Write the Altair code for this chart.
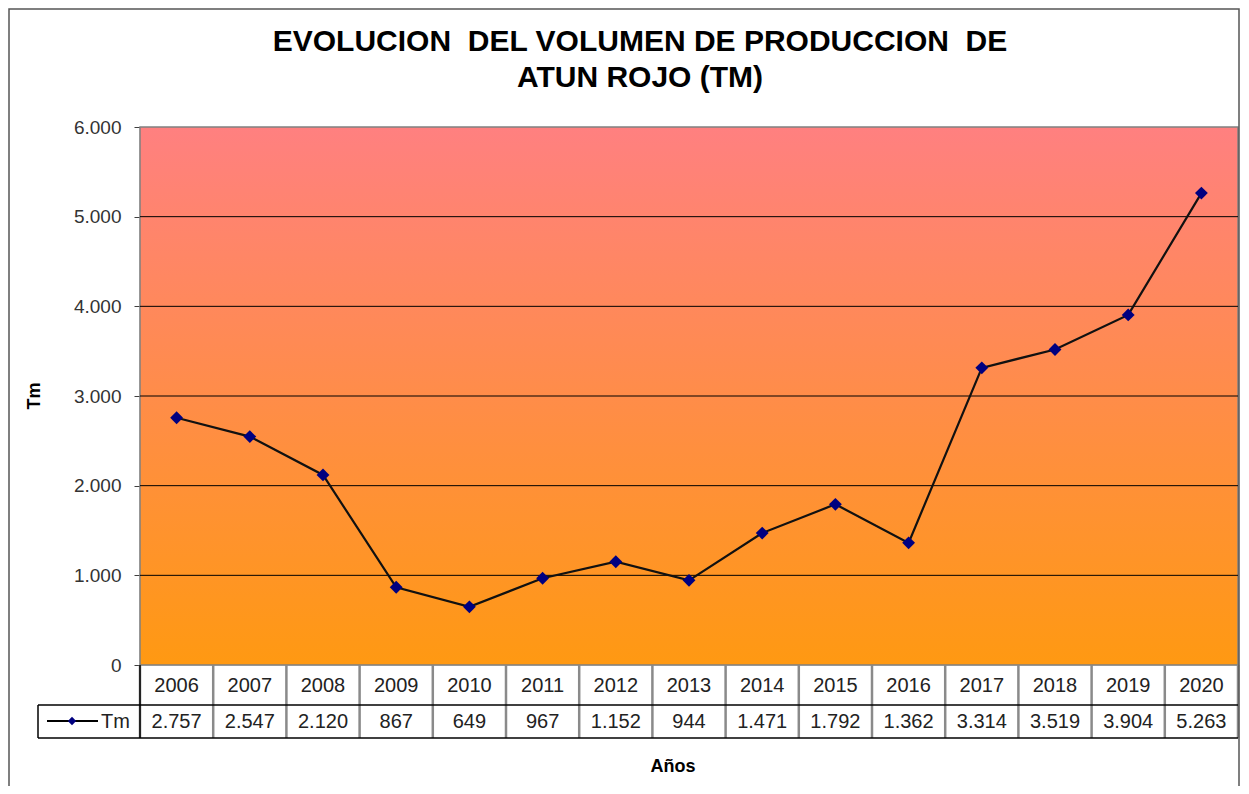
import altair as alt
import pandas as pd

years = ["2006", "2007", "2008", "2009", "2010", "2011", "2012", "2013",
         "2014", "2015", "2016", "2017", "2018", "2019", "2020"]
tm = [2757, 2547, 2120, 867, 649, 967, 1152, 944, 1471, 1792, 1362, 3314, 3519, 3904, 5263]
y_ticks = [0, 1000, 2000, 3000, 4000, 5000, 6000]
grid_values = [1000, 2000, 3000, 4000, 5000]

NB = "\u00a0"
title_line1 = "EVOLUCION" + NB + NB + "DEL VOLUMEN DE PRODUCCION" + NB + NB + "DE"
title_line2 = "ATUN ROJO (TM)"

W, H = 1098, 538
FONT = "Liberation Sans"

df = pd.DataFrame({"year": years, "tm": tm})
one = pd.DataFrame({"k": [0]})
grid_df = pd.DataFrame({"v": grid_values})

fmt = "replace(format(datum.{f}, ','), ',', '.')"

xenc = alt.X("year:O", scale=alt.Scale(type="band", paddingInner=0, paddingOuter=0), axis=None)
yscale = alt.Scale(domain=[0, 6000], nice=False, zero=True)
yaxis = alt.Axis(values=y_ticks, labelExpr=fmt.format(f="value"), grid=False, orient="left",
                 title=None, domainColor="#808080", domainWidth=1.5, tickColor="#404040",
                 tickSize=6, labelPadding=13, labelFontSize=19,
                 labelColor="#333333", labelFont=FONT)

# background gradient
bg = alt.Chart(one).mark_rect(
    color={"gradient": "linear", "x1": 0, "y1": 0, "x2": 0, "y2": 1,
           "stops": [{"offset": 0, "color": "#FF8080"}, {"offset": 1, "color": "#FF9912"}]}
).encode(x=alt.value(0), x2=alt.value(W), y=alt.value(0), y2=alt.value(H))

frame = alt.Chart(one).mark_rect(fill=None, stroke="#808080", strokeWidth=1.5).encode(
    x=alt.value(0), x2=alt.value(W), y=alt.value(0), y2=alt.value(H))

grid = alt.Chart(grid_df).mark_rule(color="black", strokeWidth=1).encode(
    y=alt.Y("v:Q", scale=yscale, axis=yaxis))

line = alt.Chart(df).mark_line(color="#111111", strokeWidth=2.2).encode(
    x=xenc, y=alt.Y("tm:Q", scale=yscale, axis=yaxis))
pts = alt.Chart(df).mark_point(shape="diamond", filled=True, size=165, color="#000080", opacity=1).encode(
    x=xenc, y=alt.Y("tm:Q", scale=yscale, axis=yaxis))

# table
vsep = alt.Chart(df).mark_rule(color="#8a8a8a", strokeWidth=2.5).encode(
    x=alt.X("year:O", scale=alt.Scale(type="band", paddingInner=0, paddingOuter=0), axis=None, bandPosition=0),
    y=alt.value(H), y2=alt.value(H + 73))
rsep = alt.Chart(one).mark_rule(color="#8a8a8a", strokeWidth=2.5).encode(
    x=alt.value(W), y=alt.value(H), y2=alt.value(H + 73))
lsep = alt.Chart(one).mark_rule(color="black", strokeWidth=1.5).encode(
    x=alt.value(0), y=alt.value(H), y2=alt.value(H + 73))
hsep1 = alt.Chart(one).mark_rule(color="black", strokeWidth=1.5).encode(
    x=alt.value(-102), x2=alt.value(W), y=alt.value(H + 40))
hsep2 = alt.Chart(one).mark_rule(color="black", strokeWidth=1.5).encode(
    x=alt.value(-102), x2=alt.value(W), y=alt.value(H + 73))
legsep = alt.Chart(one).mark_rule(color="black", strokeWidth=1.5).encode(
    x=alt.value(-102), y=alt.value(H + 40), y2=alt.value(H + 73))

yr_text = alt.Chart(df).mark_text(fontSize=20, font=FONT, color="#222222", baseline="middle").encode(
    x=xenc, y=alt.value(H + 21), text="year:N")
val_text = alt.Chart(df).transform_calculate(label=fmt.format(f="tm")).mark_text(
    fontSize=20, font=FONT, color="#222222", baseline="middle").encode(
    x=xenc, y=alt.value(H + 57), text="label:N")

leg_line = alt.Chart(one).mark_rule(color="black", strokeWidth=2).encode(
    x=alt.value(-93), x2=alt.value(-42), y=alt.value(H + 56))
leg_pt = alt.Chart(one).mark_point(shape="diamond", filled=True, size=70, color="#000080", opacity=1).encode(
    x=alt.value(-68), y=alt.value(H + 56))
leg_txt = alt.Chart(one).transform_calculate(t="'Tm'").mark_text(
    fontSize=20, font=FONT, color="#222222", align="left", baseline="middle").encode(
    x=alt.value(-39), y=alt.value(H + 57), text="t:N")

# titles
def title_mark(txt, ypos):
    return alt.Chart(one).transform_calculate(t="'" + txt + "'").mark_text(
        fontSize=30, font=FONT, fontWeight="bold", color="black", align="center", baseline="alphabetic"
    ).encode(x=alt.value(500), y=alt.value(ypos), text="t:N")

t1 = title_mark(title_line1, -76)
t2 = title_mark(title_line2, -40)

ytitle = alt.Chart(one).transform_calculate(t="'Tm'").mark_text(
    fontSize=18, font=FONT, fontWeight="bold", color="black", angle=270, baseline="middle", align="center"
).encode(x=alt.value(-105), y=alt.value(269), text="t:N")

xtitle = alt.Chart(one).transform_calculate(t="'Años'").mark_text(
    fontSize=18, font=FONT, fontWeight="bold", color="black", baseline="alphabetic", align="center"
).encode(x=alt.value(533), y=alt.value(H + 107), text="t:N")

border = alt.Chart(one).mark_rect(fill=None, stroke="#555555", strokeWidth=1.5).encode(
    x=alt.value(-131), x2=alt.value(W + 1), y=alt.value(-118), y2=alt.value(H + 200))

chart = alt.layer(
    bg, frame, grid, line, pts, vsep, rsep, lsep, hsep1, hsep2, legsep,
    yr_text, val_text, leg_line, leg_pt, leg_txt, t1, t2, ytitle, xtitle, border
).resolve_scale(y="shared").properties(
    width=W, height=H,
    autosize=alt.AutoSizeParams(type="none"),
    padding={"left": 132, "top": 119, "right": 3, "bottom": 121},
    background="white",
).configure_view(stroke="#808080", strokeWidth=1.5).configure(font=FONT)

chart.save("out.html", embed_options={"renderer": "svg", "actions": False})
